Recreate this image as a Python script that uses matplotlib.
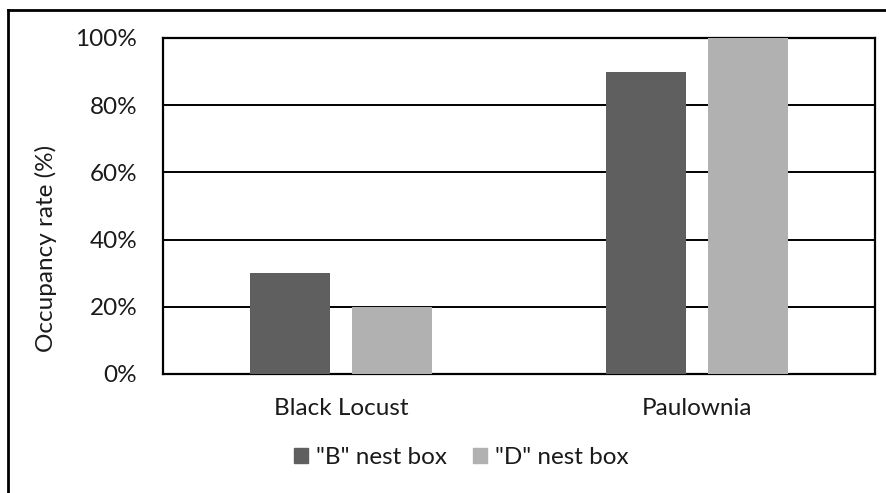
import matplotlib.pyplot as plt
import numpy as np
from matplotlib.lines import Line2D
from matplotlib.patches import Patch

# data
categories = ["Black Locust", "Paulownia"]
series_names = ['"B" nest box', '"D" nest box']
b_box = [30, 90]
d_box = [20, 100]
yticks = [0, 20, 40, 60, 80, 100]
colors = ["#5f5f5f", "#b1b1b1"]

plt.rcParams["font.family"] = ["Lato", "DejaVu Sans"]
fs = 17.5
txt = "#1a1a1a"

fig = plt.figure(figsize=(8.87, 4.93), dpi=100)
ax = fig.add_axes([163 / 887, 1 - 374 / 493, 712 / 887, 336 / 493])

x = np.arange(len(categories))
width = 0.225
offset = 0.1435
ax.bar(x - offset, b_box, width, color=colors[0], zorder=3)
ax.bar(x + offset, d_box, width, color=colors[1], zorder=3)

ax.set_xlim(-0.5, len(categories) - 0.5)
ax.set_ylim(0, 100)
ax.set_yticks(yticks)
ax.set_yticklabels([f"{v}%" for v in yticks])
ax.set_xticks(x)
ax.set_xticklabels(categories)
ax.yaxis.grid(True, color="black", linewidth=1.4, zorder=0)
ax.tick_params(axis="both", length=0, labelsize=fs, colors=txt)
ax.tick_params(axis="y", pad=18.5)
ax.tick_params(axis="x", pad=17)
for s in ax.spines.values():
    s.set_color("black")
    s.set_linewidth(1.6)

ax.set_ylabel("Occupancy rate (%)", fontsize=fs, color=txt)
ax.yaxis.set_label_coords(-0.164, 0.375)
ax.yaxis.label.set_verticalalignment("center")

handles = [Patch(color=c) for c in colors]
fig.legend(handles, series_names, loc="center", bbox_to_anchor=(461 / 887, 1 - 458 / 493),
           ncol=2, frameon=False, fontsize=fs, handlelength=0.58, handleheight=0.58,
           handletextpad=0.33, columnspacing=1.07, labelcolor=txt)

# outer chart border (cropped at right and bottom in the reference)
fig.add_artist(Line2D([8 / 887, 1], [1 - 10 / 493, 1 - 10 / 493], color="black", linewidth=2, transform=fig.transFigure))
fig.add_artist(Line2D([8 / 887, 8 / 887], [0, 1 - 10 / 493], color="black", linewidth=2, transform=fig.transFigure))

fig.savefig("out.png", dpi=100)
